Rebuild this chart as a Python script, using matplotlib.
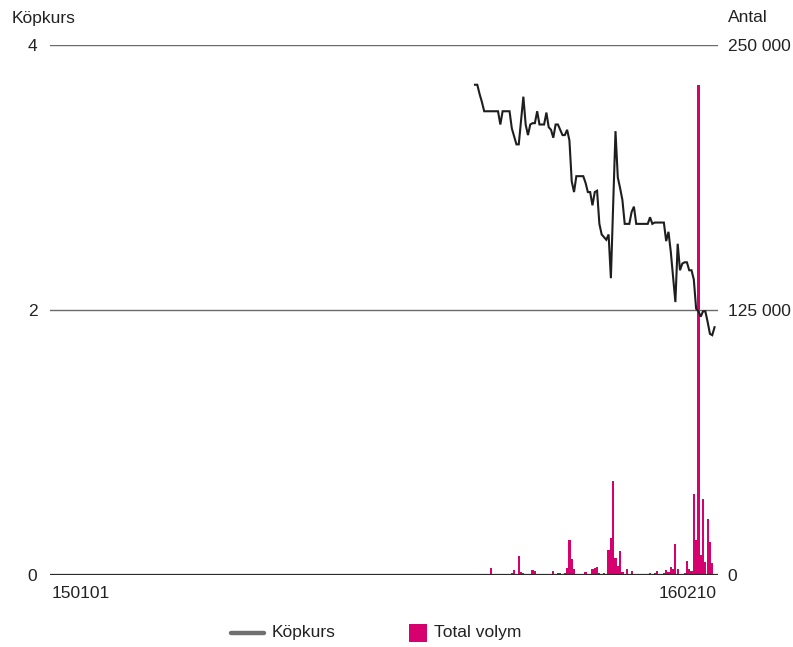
import numpy as np
import pandas as pd
import matplotlib
matplotlib.use("Agg")
import matplotlib.pyplot as plt
from matplotlib.lines import Line2D
from matplotlib.patches import Rectangle

plt.rcParams["font.family"] = ["Liberation Sans", "DejaVu Sans"]

# trading days on the axis and first day with data
axis_start, axis_end = "2015-01-01", "2016-02-10"
first_day = "2015-09-16"

# closing price (SEK), one value per trading day
price = [
    3.70, 3.70, 3.63, 3.57, 3.50, 3.50, 3.50, 3.50, 3.50, 3.50,
    3.50, 3.40, 3.50, 3.50, 3.50, 3.50, 3.37, 3.31, 3.25, 3.25,
    3.43, 3.61, 3.40, 3.32, 3.40, 3.41, 3.41, 3.50, 3.40, 3.40,
    3.40, 3.49, 3.38, 3.36, 3.30, 3.40, 3.40, 3.36, 3.32, 3.32,
    3.36, 3.28, 2.97, 2.89, 3.01, 3.01, 3.01, 3.01, 2.96, 2.89,
    2.89, 2.79, 2.89, 2.90, 2.65, 2.57, 2.55, 2.53, 2.57, 2.24,
    2.80, 3.35, 3.00, 2.92, 2.83, 2.65, 2.65, 2.65, 2.74, 2.78,
    2.65, 2.65, 2.65, 2.65, 2.65, 2.65, 2.70, 2.65, 2.66, 2.66,
    2.66, 2.66, 2.66, 2.52, 2.59, 2.44, 2.25, 2.06, 2.50, 2.30,
    2.35, 2.36, 2.36, 2.30, 2.30, 2.23, 2.01, 1.99, 1.95, 1.99,
    1.99, 1.91, 1.82, 1.81, 1.87,
]

# traded volume (shares), same days as price
volume = [
    0, 500, 0, 0, 0, 0, 0, 3300, 0, 0,
    0, 0, 0, 0, 0, 0, 950, 2400, 0, 9000,
    1400, 950, 0, 0, 0, 2400, 2000, 0, 0, 0,
    0, 0, 0, 0, 1900, 0, 950, 950, 0, 950,
    3300, 16500, 7500, 2800, 0, 0, 500, 500, 1400, 500,
    0, 2800, 3300, 3800, 950, 0, 950, 0, 11800, 17500,
    44300, 8000, 4250, 11300, 1400, 0, 2800, 0, 1900, 500,
    0, 0, 0, 0, 0, 500, 950, 0, 950, 1900,
    0, 500, 950, 2400, 1400, 3800, 2800, 14600, 2800, 0,
    0, 950, 6600, 2800, 1900, 38200, 16500, 231000, 9400, 35800,
    6100, 26400, 15600, 5700, 0,
]

price_ticks = [0, 2, 4]
volume_ticks = [0, 125000, 250000]
volume_labels = ["0", "125 000", "250 000"]

axis_days = pd.bdate_range(axis_start, axis_end)
data_days = pd.bdate_range(first_day, periods=len(price))
x = axis_days.get_indexer(data_days)

text_col = "#222222"
line_col = "#1e1e1e"
bar_col = "#d7006f"
fs = 12.5

fig = plt.figure(figsize=(7.93, 6.47), dpi=100)
ax = fig.add_axes([50 / 793, 1 - 575 / 647, 668 / 793, 530 / 647])
ax2 = ax.twinx()

# volume bars behind the price line
ax2.bar(x, volume, width=0.95, color=bar_col, linewidth=0)
ax2.set_ylim(0, 250000)
ax2.set_yticks(volume_ticks)
ax2.set_yticklabels(volume_labels)

ax.plot(x, price, color=line_col, linewidth=1.5, solid_joinstyle="miter")
ax.set_ylim(0, 4)
ax.set_xlim(-0.5, len(axis_days) - 0.5)
ax.set_yticks(price_ticks)
ax.set_zorder(ax2.get_zorder() + 1)
ax.patch.set_visible(False)

for v in price_ticks[1:]:
    ax.axhline(v, color="#6a6a6a", linewidth=1.0, zorder=0)
ax.axhline(0, color="#2a2a2a", linewidth=1.6, zorder=3)

for a in (ax, ax2):
    for s in a.spines.values():
        s.set_visible(False)
    a.tick_params(length=0, labelsize=fs, labelcolor=text_col)
ax.tick_params(axis="y", pad=9)
ax2.tick_params(axis="y", pad=7)

ax.set_xticks([0, len(axis_days) - 1])
ax.set_xticklabels([axis_days[0].strftime("%y%m%d"), axis_days[-1].strftime("%y%m%d")])
ax.tick_params(axis="x", pad=8)
xl = ax.get_xticklabels()
xl[0].set_ha("left")
xl[1].set_ha("right")

fig.text(12 / 793, 1 - 18 / 647, "Köpkurs", fontsize=fs, color=text_col, va="center", ha="left")
fig.text(728 / 793, 1 - 18 / 647, "Antal", fontsize=fs, color=text_col, va="center", ha="left")

# legend row at the bottom
ly = 1 - 633 / 647
fig.add_artist(Line2D([231 / 793, 264 / 793], [ly, ly], color="#707070", linewidth=3.2,
                      solid_capstyle="round", transform=fig.transFigure))
fig.text(272 / 793, ly, "Köpkurs", fontsize=fs, color=text_col, va="center", ha="left")
fig.add_artist(Rectangle((409 / 793, 1 - 642 / 647), 18 / 793, 18 / 647, color=bar_col,
                         linewidth=0, transform=fig.transFigure))
fig.text(434 / 793, ly, "Total volym", fontsize=fs, color=text_col, va="center", ha="left")

fig.savefig("out.png", dpi=100)
